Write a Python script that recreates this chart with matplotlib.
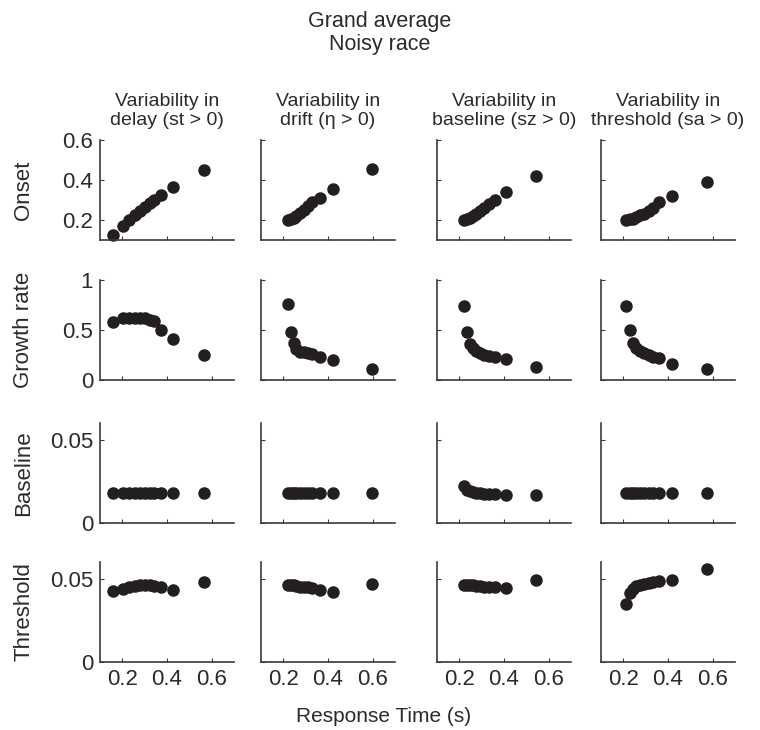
import numpy as np
import matplotlib.pyplot as plt

plt.rcParams['font.family'] = ['Liberation Sans', 'DejaVu Sans']

ink = '#231f20'

col_titles = ['Variability in\ndelay (st > 0)', 'Variability in\ndrift (\u03b7 > 0)',
              'Variability in\nbaseline (sz > 0)', 'Variability in\nthreshold (sa > 0)']
row_names = ['Onset', 'Growth rate', 'Baseline', 'Threshold']

# response times (s) per column
rt_delay = [0.16, 0.202, 0.232, 0.258, 0.28, 0.302, 0.322, 0.343, 0.372, 0.427, 0.567]
rt_drift = [0.222, 0.235, 0.246, 0.258, 0.273, 0.291, 0.31, 0.329, 0.362, 0.423, 0.595]
rt_base = [0.219, 0.234, 0.247, 0.259, 0.273, 0.291, 0.311, 0.333, 0.359, 0.41, 0.545]
rt_thr = [0.214, 0.228, 0.243, 0.258, 0.275, 0.294, 0.313, 0.334, 0.36, 0.418, 0.576]

onset_delay = [0.126, 0.168, 0.199, 0.224, 0.245, 0.265, 0.283, 0.30, 0.323, 0.364, 0.451]
onset_drift = [0.20, 0.205, 0.21, 0.22, 0.235, 0.25, 0.27, 0.29, 0.31, 0.357, 0.455]
onset_base = [0.20, 0.205, 0.21, 0.22, 0.23, 0.245, 0.26, 0.28, 0.30, 0.339, 0.422]
onset_thr = [0.20, 0.203, 0.207, 0.215, 0.223, 0.232, 0.243, 0.258, 0.29, 0.319, 0.39]

growth_delay = [0.584, 0.62, 0.62, 0.62, 0.624, 0.624, 0.604, 0.59, 0.498, 0.41, 0.25]
growth_drift = [0.762, 0.478, 0.366, 0.307, 0.28, 0.28, 0.274, 0.257, 0.228, 0.198, 0.109]
growth_base = [0.736, 0.479, 0.363, 0.323, 0.29, 0.267, 0.25, 0.24, 0.234, 0.208, 0.132]
growth_thr = [0.736, 0.498, 0.373, 0.323, 0.29, 0.267, 0.248, 0.234, 0.221, 0.16, 0.109]

base_delay = [0.018] * 11
base_drift = [0.018] * 11
base_base = [0.022, 0.020, 0.019, 0.0185, 0.018, 0.0178, 0.0176, 0.0175, 0.0174, 0.017, 0.0168]
base_thr = [0.018] * 11

thr_delay = [0.0426, 0.044, 0.045, 0.0455, 0.046, 0.046, 0.046, 0.0455, 0.045, 0.0435, 0.048]
thr_drift = [0.046, 0.046, 0.046, 0.0455, 0.045, 0.045, 0.0448, 0.0445, 0.043, 0.042, 0.047]
thr_base = [0.046, 0.0462, 0.0462, 0.046, 0.0458, 0.0455, 0.045, 0.045, 0.0448, 0.0445, 0.049]
thr_thr = [0.0346, 0.0416, 0.044, 0.0456, 0.0464, 0.0468, 0.0474, 0.048, 0.0484, 0.049, 0.0556]

rts = [rt_delay, rt_drift, rt_base, rt_thr]
values = [
    [onset_delay, onset_drift, onset_base, onset_thr],
    [growth_delay, growth_drift, growth_base, growth_thr],
    [base_delay, base_drift, base_base, base_thr],
    [thr_delay, thr_drift, thr_base, thr_thr],
]

ylims = [(0.1, 0.6), (0, 1), (0, 0.06), (0, 0.06)]
yticks = [[0.2, 0.4, 0.6], [0, 0.5, 1], [0, 0.05], [0, 0.05]]
ytick_labels = [['0.2', '0.4', '0.6'], ['0', '0.5', '1'], ['0', '0.05'], ['0', '0.05']]
xticks = [0.2, 0.4, 0.6]

W, H = 760, 730
fig = plt.figure(figsize=(W / 100, H / 100), dpi=100)

col_left = [100, 261, 437, 601]
row_top = [140, 280, 423, 562]
aw, ah = 134, 100

for r in range(4):
    for c in range(4):
        ax = fig.add_axes([col_left[c] / W, 1 - (row_top[r] + ah) / H, aw / W, ah / H])
        ax.plot(rts[c], values[r][c], 'o', color=ink, ms=8, mec=ink, clip_on=False)
        ax.set_xlim(0.1, 0.7)
        ax.set_ylim(*ylims[r])
        ax.set_xticks(xticks)
        ax.set_yticks(yticks[r])
        for s in ['top', 'right']:
            ax.spines[s].set_visible(False)
        for s in ['left', 'bottom']:
            ax.spines[s].set_color('#3a3a3a')
            ax.spines[s].set_linewidth(1.2)
        ax.tick_params(direction='in', length=3, width=0.8, colors='#3a3a3a',
                       labelsize=16, labelcolor='#2b2b2b', pad=5)
        if r == 3:
            ax.set_xticklabels(['0.2', '0.4', '0.6'])
        else:
            ax.set_xticklabels([])
        if c == 0:
            ax.set_yticklabels(ytick_labels[r])
            fig.text(24 / W, 1 - (row_top[r] + ah / 2) / H, row_names[r], rotation=90,
                     ha='center', va='center', fontsize=16, color='#2b2b2b')
        else:
            ax.set_yticklabels([])
        if r == 0:
            fig.text((col_left[c] + aw / 2) / W, 1 - 111 / H, col_titles[c],
                     ha='center', va='center', fontsize=14, color='#2b2b2b', linespacing=1.2)

fig.text(0.5, 1 - 33 / H, 'Grand average\nNoisy race', ha='center', va='center',
         fontsize=15.5, color='#2b2b2b', linespacing=1.15)
fig.text(384 / W, 1 - 717 / H, 'Response Time (s)', ha='center', va='center',
         fontsize=15, color='#2b2b2b')

fig.savefig('out.png', dpi=100)
